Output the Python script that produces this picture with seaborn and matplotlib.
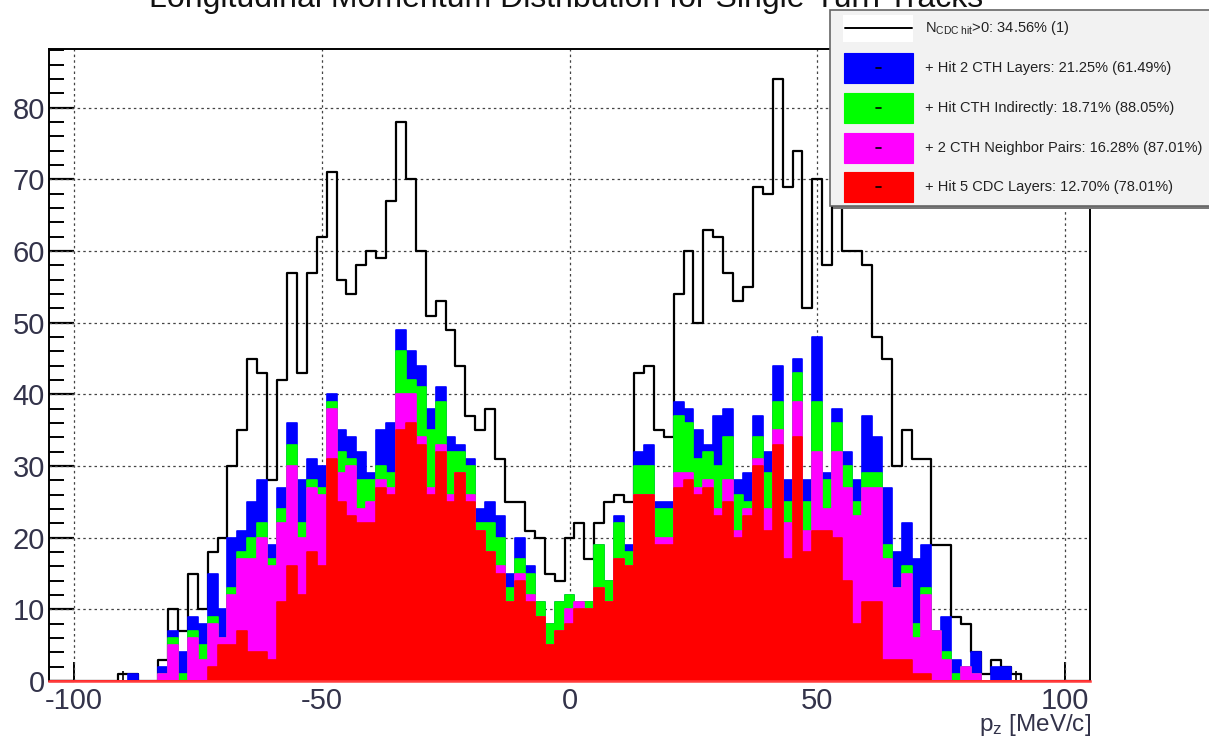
import numpy as np
import pandas as pd
import matplotlib
matplotlib.use("Agg")
import matplotlib.pyplot as plt
import seaborn as sns
from matplotlib.patches import Rectangle
from matplotlib.lines import Line2D
from matplotlib.ticker import MultipleLocator

# ---- data: counts per 2 MeV/c bin, bin centres -90 ... 90 ----
bin_centers = np.arange(-90, 91, 2)

n_cdc_hit = [1, 1, 0, 0, 3, 10, 7, 15, 10, 18, 20, 30, 35, 45, 43, 28, 42, 57, 43, 57,
             62, 71, 56, 54, 58, 60, 59, 67, 78, 70, 60, 51, 53, 49, 44, 37, 35, 38, 31, 25,
             25, 21, 20, 15, 14, 20, 22, 17, 22, 25, 26, 25, 43, 44, 35, 34, 54, 60, 50, 63,
             62, 57, 53, 55, 69, 68, 84, 69, 74, 52, 70, 58, 68, 60, 60, 58, 48, 45, 30, 35,
             31, 31, 19, 19, 9, 8, 4, 1, 3, 2, 1]
hit_2_cth = [0, 1, 0, 0, 2, 7, 4, 9, 8, 15, 10, 20, 21, 25, 28, 19, 27, 36, 28, 31,
             30, 40, 35, 34, 32, 29, 35, 36, 49, 46, 44, 38, 41, 34, 33, 31, 24, 25, 23, 15,
             20, 16, 11, 8, 11, 12, 11, 11, 19, 14, 23, 19, 32, 33, 25, 25, 39, 38, 35, 33,
             37, 38, 28, 29, 37, 32, 44, 28, 45, 28, 48, 29, 38, 32, 28, 37, 34, 27, 18, 22,
             17, 19, 7, 9, 3, 2, 4, 0, 2, 2, 0]
cth_indirect = [0, 0, 0, 0, 1, 6, 1, 7, 5, 9, 6, 13, 18, 20, 22, 17, 24, 33, 22, 28,
                27, 39, 32, 31, 28, 28, 30, 29, 46, 42, 41, 35, 39, 32, 32, 30, 22, 22, 20, 13,
                17, 15, 11, 8, 11, 12, 11, 11, 19, 14, 22, 18, 30, 30, 24, 24, 37, 36, 31, 32,
                30, 34, 26, 25, 34, 29, 39, 25, 43, 25, 39, 28, 36, 30, 25, 29, 29, 19, 13, 16,
                8, 13, 7, 4, 1, 2, 1, 0, 0, 0, 0]
neighbor_pairs = [0, 0, 0, 0, 1, 5, 0, 6, 3, 8, 6, 12, 17, 17, 20, 16, 22, 30, 20, 27,
                  26, 38, 29, 30, 24, 25, 28, 27, 40, 40, 34, 27, 33, 26, 29, 26, 21, 18, 16, 11,
                  15, 12, 9, 5, 7, 10, 11, 10, 13, 11, 17, 16, 26, 26, 20, 20, 29, 29, 27, 28,
                  24, 28, 21, 24, 31, 24, 35, 22, 39, 21, 32, 24, 32, 27, 23, 27, 27, 17, 13, 15,
                  6, 12, 7, 3, 0, 2, 1, 0, 0, 0, 0]
hit_5_cdc = [0, 0, 0, 0, 0, 0, 0, 0, 0, 2, 5, 5, 7, 4, 4, 3, 11, 16, 12, 18,
             16, 31, 25, 23, 22, 22, 27, 26, 35, 36, 33, 26, 32, 25, 29, 25, 21, 18, 15, 11,
             14, 11, 9, 5, 7, 8, 10, 10, 13, 11, 17, 16, 26, 26, 19, 19, 27, 28, 26, 27,
             23, 25, 20, 23, 30, 21, 33, 17, 34, 18, 21, 21, 20, 14, 8, 11, 11, 3, 3, 3,
             1, 1, 0, 0, 0, 0, 0, 0, 0, 0, 0]

bin_edges = list(range(-105, 106, 2))

legend_labels = [
    r"N$_{\mathregular{CDC\ hit}}$>0: 34.56% (1)",
    "+ Hit 2 CTH Layers: 21.25% (61.49%)",
    "+ Hit CTH Indirectly: 18.71% (88.05%)",
    "+ 2 CTH Neighbor Pairs: 16.28% (87.01%)",
    "+ Hit 5 CDC Layers: 12.70% (78.01%)",
]
fill_series = [hit_2_cth, cth_indirect, neighbor_pairs, hit_5_cdc]
fill_colors = ["#0000ff", "#00ff00", "#ff00ff", "#ff0000"]

# ---- style ----
sns.set_style("ticks")
plt.rcParams["font.family"] = ["Liberation Sans", "DejaVu Sans"]
plt.rcParams["mathtext.fontset"] = "custom"
plt.rcParams["mathtext.rm"] = "Liberation Sans"
plt.rcParams["mathtext.it"] = "Liberation Sans"
plt.rcParams["axes.unicode_minus"] = False

W, H = 1209, 736
fig = plt.figure(figsize=(W / 100, H / 100), dpi=100)
fig.patch.set_facecolor("white")
ax = fig.add_axes([49 / W, (H - 681) / H, (1090 - 49) / W, (681 - 49) / H])
ax.set_facecolor("white")


def draw_hist(values, **kw):
    df = pd.DataFrame({"pz": bin_centers, "count": values})
    sns.histplot(data=df, x="pz", weights="count", bins=bin_edges,
                 element="step", ax=ax, **kw)


# total with at least one CDC hit: open black outline
draw_hist(n_cdc_hit, fill=False, color="black", linewidth=1.6, zorder=2)
# successive selections drawn on top of each other
for vals, col in zip(fill_series, fill_colors):
    draw_hist(vals, fill=True, color=col, alpha=1.0, edgecolor=col,
              linewidth=1.2, zorder=3)

ax.set_xlim(-105, 105)
ax.set_ylim(0, 88.2)
ax.set_xlabel("")
ax.set_ylabel("")

# grid
grid_kw = dict(color="#444444", linewidth=0.9, linestyle=(0, (2, 2.5)), zorder=1)
for xv in [-100, -50, 0, 50, 100]:
    ax.axvline(xv, **grid_kw)
for yv in range(10, 90, 10):
    ax.axhline(yv, **grid_kw)

# ticks
ax.xaxis.set_major_locator(MultipleLocator(50))
ax.xaxis.set_minor_locator(MultipleLocator(10))
ax.yaxis.set_major_locator(MultipleLocator(10))
ax.yaxis.set_minor_locator(MultipleLocator(2))
ax.tick_params(axis="both", which="both", direction="in", color="black",
               top=False, right=False)
ax.tick_params(axis="y", which="major", length=18, width=1.6, pad=3)
ax.tick_params(axis="y", which="minor", length=11, width=1.4)
ax.tick_params(axis="x", which="major", length=14, width=1.4, pad=4)
ax.tick_params(axis="x", which="minor", length=7, width=1.2)
for lab in ax.get_xticklabels() + ax.get_yticklabels():
    lab.set_fontsize(21)
    lab.set_color("#33334a")
for s in ax.spines.values():
    s.set_linewidth(1.4)
    s.set_color("black")
    s.set_zorder(5)
# the empty red bins run along the baseline over the whole range
ax.spines["bottom"].set_color("#ff3b3b")
ax.spines["bottom"].set_linewidth(1.8)

# titles
fig.text(0.468, 1 - 7 / H, "Longitudinal Momentum Distribution for Single-Turn Tracks",
         ha="center", va="baseline", fontsize=23, color="#111111")
fig.text(1091 / W, 1 - 730.5 / H, r"p$_\mathregular{z}$ [MeV/c]", ha="right",
         va="baseline", fontsize=17.5, color="#33334a")


# legend panel (figure pixel coordinates)
def fx(px):
    return px / W


def fy(py):
    return 1 - py / H


fig.patches.append(Rectangle((fx(833), fy(209)), fx(W + 10) - fx(833), fy(13) - fy(209),
                             transform=fig.transFigure, facecolor="#777777",
                             edgecolor="none", zorder=8))
fig.patches.append(Rectangle((fx(830), fy(206)), fx(W + 10) - fx(830), fy(10) - fy(206),
                             transform=fig.transFigure, facecolor="#f2f2f2",
                             edgecolor="#666666", linewidth=1.2, zorder=9))
row_y = [28, 68, 108, 148, 187]
fig.patches.append(Rectangle((fx(843), fy(42)), fx(913) - fx(843), fy(15) - fy(42),
                             transform=fig.transFigure, facecolor="white",
                             edgecolor="none", zorder=10))
fig.lines.append(Line2D([fx(845), fx(912)], [fy(28), fy(28)], transform=fig.transFigure,
                        color="black", linewidth=1.4, zorder=11))
for yy, col in zip(row_y[1:], fill_colors):
    fig.patches.append(Rectangle((fx(844), fy(yy + 15)), fx(913) - fx(844),
                                 fy(yy - 15) - fy(yy + 15),
                                 transform=fig.transFigure, facecolor=col,
                                 edgecolor=col, linewidth=0.8, zorder=10))
    fig.lines.append(Line2D([fx(876), fx(881)], [fy(yy), fy(yy)], transform=fig.transFigure,
                            color="black", linewidth=1.2, zorder=11))
for yy, lab in zip(row_y, legend_labels):
    fig.text(fx(925), fy(yy), lab, ha="left", va="center", fontsize=10.5,
             color="#222222", zorder=12)

fig.savefig("out.png", dpi=100, facecolor="white")
